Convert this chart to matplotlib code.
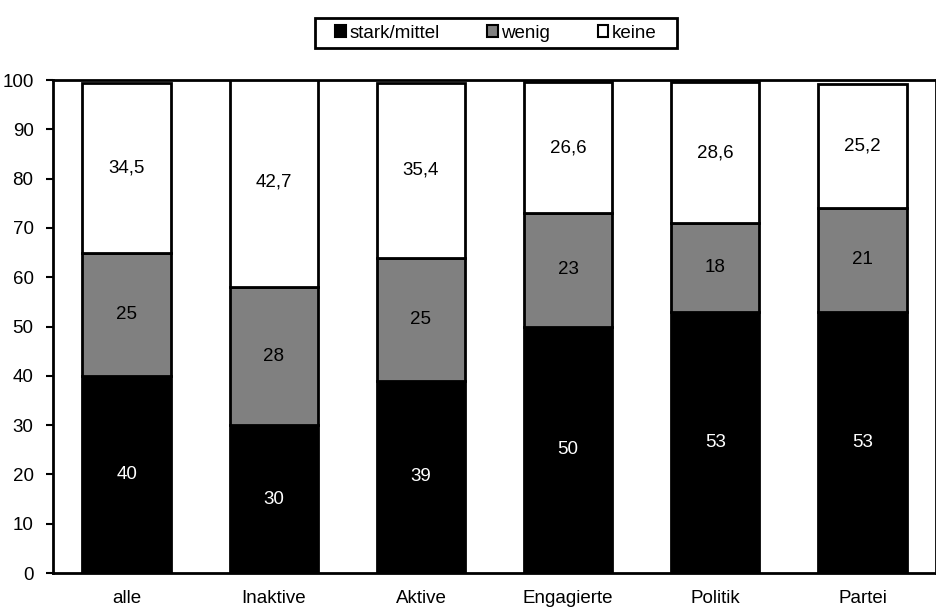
import numpy as np
from matplotlib import pyplot as plt
from matplotlib.patches import Patch, Rectangle

plt.rcParams['font.family'] = ['Liberation Sans', 'DejaVu Sans']

categories = ['alle', 'Inaktive', 'Aktive', 'Engagierte', 'Politik', 'Partei']
stark_mittel = [40, 30, 39, 50, 53, 53]
wenig = [25, 28, 25, 23, 18, 21]
keine = [34.5, 42.7, 35.4, 26.6, 28.6, 25.2]
series_names = ['stark/mittel', 'wenig', 'keine']
y_ticks = list(range(0, 101, 10))

FS = 13.5


def fmt(v):
    # german decimal comma, integers stay plain
    if float(v).is_integer():
        return f'{int(v)}'
    return f'{v:.1f}'.replace('.', ',')


fig = plt.figure(figsize=(9.37, 6.12), dpi=100)
ax = fig.add_axes([0.0566, 0.0637, 0.9424, 0.8055])

x = np.arange(len(categories)) + 0.5
width = 0.6
colors = ['#000000', '#808080', '#ffffff']
text_colors = ['white', 'black', 'black']

bottom = np.zeros(len(categories))
for vals, col, tcol in zip([stark_mittel, wenig, keine], colors, text_colors):
    vals = np.array(vals, dtype=float)
    ax.bar(x, vals, width, bottom=bottom, color=col, edgecolor='black',
           linewidth=2.0, zorder=2)
    for xi, b, v in zip(x, bottom, vals):
        ax.text(xi, b + v / 2, fmt(v), ha='center', va='center',
                color=tcol, fontsize=FS, zorder=3)
    bottom += vals

ax.set_xlim(0, len(categories))
ax.set_ylim(0, 100)
ax.set_yticks(y_ticks)
ax.set_xticks(x)
ax.set_xticklabels(categories)
ax.tick_params(axis='y', direction='out', length=5, width=1.5, labelsize=FS, pad=9)
ax.tick_params(axis='x', length=0, labelsize=FS, pad=12)
for sp in ax.spines.values():
    sp.set_linewidth(2.0)

handles = [Patch(facecolor=c, edgecolor='black', linewidth=1.5) for c in colors]
leg = fig.legend(handles, series_names, loc='center', bbox_to_anchor=(0.5294, 0.946),
                 ncol=3, fontsize=FS, frameon=False,
                 handlelength=0.55, handleheight=0.55, handletextpad=0.2,
                 columnspacing=2.55, borderpad=0.35, borderaxespad=0)

# legend box with wider side padding than the built-in frame allows
fig.canvas.draw()
bb = leg.get_window_extent(fig.canvas.get_renderer())
extra = 14
fig.patches.append(Rectangle((bb.x0 - extra, bb.y0), bb.width + 2 * extra, bb.height,
                             transform=None, fill=False, edgecolor='black',
                             linewidth=2.0))

fig.savefig('out.png', dpi=100)
